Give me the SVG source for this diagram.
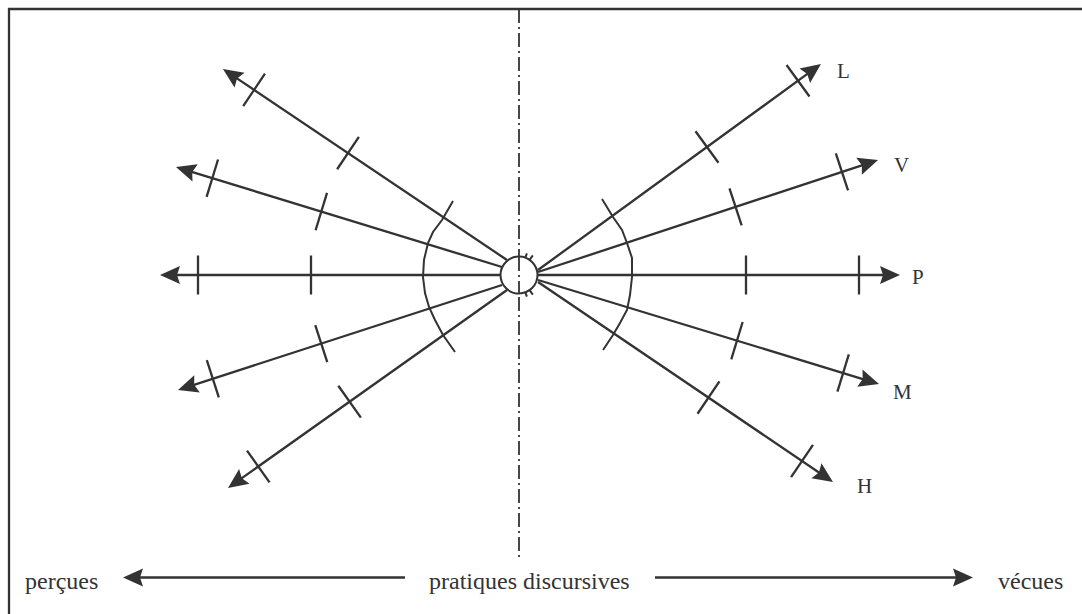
<svg xmlns="http://www.w3.org/2000/svg" width="1082" height="614" viewBox="0 0 1082 614">
<style>
.ln{stroke:#333;stroke-width:2.3;fill:none}
.thin{stroke:#333;stroke-width:2;fill:none}
.ah{fill:#333;stroke:none}
.lbl{font-family:"Liberation Serif","Times New Roman",serif;font-size:21px;fill:#333}
.bt{font-family:"Liberation Serif","Times New Roman",serif;font-size:24px;fill:#333}
</style>
<defs>
<path id="arr" d="M0,0 l-20,-9 l3,9 l-3,9 z"/>
</defs>
<rect width="1082" height="614" fill="#fff"/>
<g id="frame">
<polyline class="ln" points="9,614 9,9 1082,9"/>
</g>
<g id="axis">
<line x1="519" y1="9" x2="519" y2="558" stroke="#333" stroke-width="1.8" stroke-dasharray="14 4 2 4"/>
</g>
<g id="connectors">
<g id="ray-left1" transform="translate(507,260) rotate(213.92)">
<line class="ln" x1="0" y1="0" x2="329" y2="0"/><line class="ln" x1="191.6" y1="-19.5" x2="191.6" y2="19.5"/><line class="ln" x1="304.8" y1="-19.5" x2="304.8" y2="19.5"/><use href="#arr" class="ah" x="342.3" y="0"/>
</g>
<g id="ray-left2" transform="translate(502,267) rotate(197.05)">
<line class="ln" x1="0" y1="0" x2="328" y2="0"/><line class="ln" x1="189" y1="-19.5" x2="189" y2="19.5"/><line class="ln" x1="303" y1="-19.5" x2="303" y2="19.5"/><use href="#arr" class="ah" x="341" y="0"/>
</g>
<g id="ray-left0" transform="translate(500,275) rotate(180)">
<line class="ln" x1="0" y1="0" x2="327" y2="0"/><line class="ln" x1="189" y1="-19.5" x2="189" y2="19.5"/><line class="ln" x1="302" y1="-19.5" x2="302" y2="19.5"/><use href="#arr" class="ah" x="340" y="0"/>
</g>
<g id="ray-left3" transform="translate(502,285) rotate(162.04)">
<line class="ln" x1="0" y1="0" x2="327" y2="0"/><line class="ln" x1="190" y1="-19.5" x2="190" y2="19.5"/><line class="ln" x1="304" y1="-19.5" x2="304" y2="19.5"/><use href="#arr" class="ah" x="340.6" y="0"/>
</g>
<g id="ray-left4" transform="translate(507,290) rotate(144.64)">
<line class="ln" x1="0" y1="0" x2="329" y2="0"/><line class="ln" x1="193" y1="-19.5" x2="193" y2="19.5"/><line class="ln" x1="305" y1="-19.5" x2="305" y2="19.5"/><use href="#arr" class="ah" x="342.1" y="0"/>
</g>
<g id="ray-L" transform="translate(538,270) rotate(-36.05)">
<line class="ln" x1="0" y1="0" x2="337" y2="0"/><line class="ln" x1="209" y1="-19.5" x2="209" y2="19.5"/><line class="ln" x1="321.6" y1="-19.5" x2="321.6" y2="19.5"/><use href="#arr" class="ah" x="350" y="0"/>
</g>
<g id="ray-V" transform="translate(538,272) rotate(-18.23)">
<line class="ln" x1="0" y1="0" x2="345" y2="0"/><line class="ln" x1="208" y1="-19.5" x2="208" y2="19.5"/><line class="ln" x1="320" y1="-19.5" x2="320" y2="19.5"/><use href="#arr" class="ah" x="358" y="0"/>
</g>
<g id="ray-P" transform="translate(538,275)">
<line class="ln" x1="0" y1="0" x2="349" y2="0"/><line class="ln" x1="208" y1="-19.5" x2="208" y2="19.5"/><line class="ln" x1="321" y1="-19.5" x2="321" y2="19.5"/><use href="#arr" class="ah" x="362" y="0"/>
</g>
<g id="ray-M" transform="translate(538,280) rotate(16.96)">
<line class="ln" x1="0" y1="0" x2="343" y2="0"/><line class="ln" x1="208" y1="-19.5" x2="208" y2="19.5"/><line class="ln" x1="319" y1="-19.5" x2="319" y2="19.5"/><use href="#arr" class="ah" x="356.5" y="0"/>
</g>
<g id="ray-H" transform="translate(538,282) rotate(34.14)">
<line class="ln" x1="0" y1="0" x2="343" y2="0"/><line class="ln" x1="206" y1="-19.5" x2="206" y2="19.5"/><line class="ln" x1="319" y1="-19.5" x2="319" y2="19.5"/><use href="#arr" class="ah" x="356.4" y="0"/>
</g>
</g>
<g id="arcs">
<polyline class="thin" points="453,201 442,220 433,232 428,243 424,260 423,277 425,293 429,307 435,320 443,335 455,352"/>
<polyline class="thin" points="602,199 613,217 622,230 627,243 632,258 632,277 630,295 627,310 620,323 613,335 603,350"/>
</g>
<g id="center">
<circle cx="519" cy="275" r="18.5" fill="#fff" stroke="#333" stroke-width="2"/>
<line x1="519" y1="257" x2="519" y2="293" stroke="#333" stroke-width="1.8" stroke-dasharray="14 4 2 4"/>
<line class="thin" x1="525.3" y1="257.6" x2="526.9" y2="253.4"/>
<line class="thin" x1="529.6" y1="259.8" x2="532.8" y2="255.3"/>
<line class="thin" x1="525.3" y1="292.4" x2="526.9" y2="296.6"/>
<line class="thin" x1="529.6" y1="290.2" x2="532.8" y2="294.7"/>
</g>
<g id="labels">
<text class="lbl" x="837" y="78">L</text>
<text class="lbl" x="894" y="172">V</text>
<text class="lbl" x="912" y="284">P</text>
<text class="lbl" x="893" y="399">M</text>
<text class="lbl" x="857" y="493">H</text>
</g>
<g id="bottom">
<line class="ln" x1="405" y1="577.5" x2="136" y2="577.5"/>
<use href="#arr" class="ah" transform="translate(123,577.5) rotate(180)"/>
<line class="ln" x1="655" y1="577.5" x2="960" y2="577.5"/>
<use href="#arr" class="ah" transform="translate(973,577.5)"/>
<text class="bt" x="25" y="589">perçues</text>
<text class="bt" x="429" y="589">pratiques discursives</text>
<text class="bt" x="998" y="589">vécues</text>
</g>
</svg>
